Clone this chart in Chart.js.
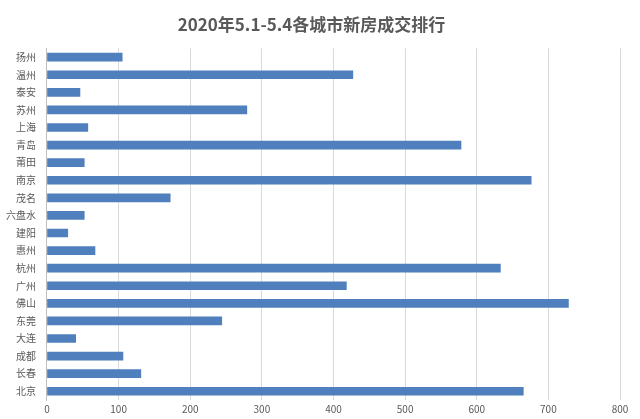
<!DOCTYPE html>
<html>
<head>
<meta charset="utf-8">
<script src="https://cdn.jsdelivr.net/npm/chart.js@4/dist/chart.umd.min.js"></script>
<style>
  html, body { margin: 0; padding: 0; background: #fff; }
  #wrap { width: 640px; height: 419px; }
</style>
</head>
<body>
<div id="wrap"><canvas id="rankChart"></canvas></div>
<script>
// City list, top to bottom as in the picture
const cities = ['扬州', '温州', '泰安', '苏州', '上海', '青岛', '莆田', '南京', '茂名', '六盘水',
                '建阳', '惠州', '杭州', '广州', '佛山', '东莞', '大连', '成都', '长春', '北京'];
const deals = [105, 427, 46, 279, 57, 578, 52, 676, 172, 52,
               29, 67, 633, 418, 728, 244, 40, 106, 131, 665];
const xTicks = [0, 100, 200, 300, 400, 500, 600, 700, 800];

new Chart(document.getElementById('rankChart'), {
    type: 'bar',
    data: {
        labels: cities,
        datasets: [{
            data: deals,
            backgroundColor: '#4f7fbc',
            barThickness: 8
        }]
    },
    options: {
        indexAxis: 'y',
        responsive: true,
        maintainAspectRatio: false,
        animation: false,
        layout: { padding: { left: 3, right: 20, top: 6, bottom: 1 } },
        plugins: {
            legend: { display: false },
            tooltip: { enabled: false },
            title: {
                display: true,
                text: '2020年5.1-5.4各城市新房成交排行',
                color: '#595959',
                font: { family: 'Noto Sans CJK SC', size: 17, weight: 'bold' },
                padding: { top: 8, bottom: 14 }
            }
        },
        scales: {
            x: {
                min: 0,
                max: 800,
                afterBuildTicks: axis => { axis.ticks = xTicks.map(v => ({ value: v })); },
                ticks: { color: '#595959', font: { family: 'Noto Sans CJK SC', size: 10 } },
                grid: { color: '#d9d9d9', drawTicks: false },
                border: { display: false }
            },
            y: {
                ticks: { color: '#595959', font: { family: 'Noto Sans CJK SC', size: 10 }, autoSkip: false },
                grid: { display: false },
                border: { color: '#bfbfbf' }
            }
        }
    }
});
</script>
</body>
</html>
